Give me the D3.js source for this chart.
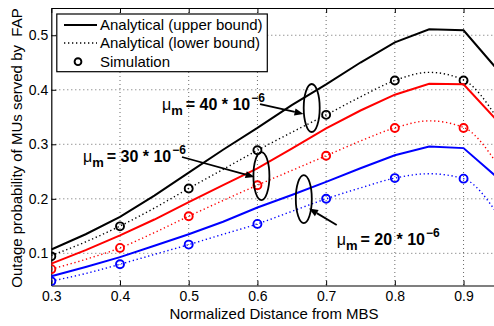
<!DOCTYPE html>
<html>
<head>
<meta charset="utf-8">
<script src="https://cdn.jsdelivr.net/npm/d3@7"></script>
<style>
  body { margin: 0; background: #fff; }
  svg { display: block; font-family: "Liberation Sans", Arial, Helvetica, sans-serif; }
</style>
</head>
<body>
<svg id="chart" width="494" height="326"></svg>
<script>
// ---- data ----
const distance = [0.30, 0.35, 0.40, 0.45, 0.50, 0.55, 0.60, 0.65, 0.70, 0.75, 0.80, 0.85, 0.90, 0.95];

const upper40 = [0.107, 0.135, 0.167, 0.206, 0.248, 0.290, 0.330, 0.372, 0.410, 0.450, 0.487, 0.511, 0.509, 0.436];
const lower40 = [0.096, 0.121, 0.150, 0.183, 0.219, 0.254, 0.289, 0.322, 0.354, 0.387, 0.417, 0.432, 0.418, 0.346];

const upper30 = [0.081, 0.106, 0.133, 0.162, 0.194, 0.225, 0.256, 0.292, 0.329, 0.362, 0.391, 0.411, 0.410, 0.342];
const lower30 = [0.071, 0.089, 0.110, 0.138, 0.168, 0.197, 0.225, 0.252, 0.279, 0.306, 0.330, 0.343, 0.331, 0.262];

const upper20 = [0.058, 0.075, 0.093, 0.114, 0.135, 0.158, 0.184, 0.207, 0.231, 0.256, 0.280, 0.296, 0.293, 0.238];
const lower20 = [0.049, 0.063, 0.080, 0.098, 0.116, 0.135, 0.154, 0.177, 0.200, 0.220, 0.238, 0.246, 0.237, 0.171];

const simDistance = [0.3, 0.4, 0.5, 0.6, 0.7, 0.8, 0.9];
const sim40 = [0.0945, 0.1495, 0.219, 0.289, 0.354, 0.417, 0.417];
const sim30 = [0.071, 0.110, 0.168, 0.225, 0.279, 0.330, 0.330];
const sim20 = [0.0486, 0.080, 0.116, 0.154, 0.200, 0.238, 0.237];

const xTicks = [0.3, 0.4, 0.5, 0.6, 0.7, 0.8, 0.9];
const yTicks = [0.1, 0.2, 0.3, 0.4, 0.5];

const legendLabels = ["Analytical (upper bound)", "Analytical (lower bound)", "Simulation"];
const annotationValues = ["40", "30", "20"];

// ---- layout ----
const svg = d3.select("#chart");
const pLeft = 51.3, pRight = 497.9, pTop = 8, pBottom = 285.5;
const x = d3.scaleLinear().domain([0.3, 0.95]).range([pLeft, pRight]);
const y = d3.scaleLinear().domain([0.041, 0.55]).range([pBottom, pTop]);

svg.append("defs").append("clipPath").attr("id", "clip")
  .append("rect").attr("x", pLeft).attr("y", pTop).attr("width", pRight - pLeft).attr("height", pBottom - pTop);

// grid
const grid = svg.append("g").attr("stroke", "#444").attr("stroke-width", 0.8).attr("stroke-dasharray", "1,3");
grid.selectAll(".gx").data(xTicks.slice(1)).join("line")
  .attr("x1", d => x(d)).attr("x2", d => x(d)).attr("y1", pTop).attr("y2", pBottom);
grid.selectAll(".gy").data(yTicks).join("line")
  .attr("x1", pLeft).attr("x2", pRight).attr("y1", d => y(d)).attr("y2", d => y(d));

// axes
const axB = svg.append("g").attr("transform", `translate(0,${pBottom})`)
  .call(d3.axisBottom(x).tickValues(xTicks).tickSizeInner(-5).tickSizeOuter(0).tickPadding(6).tickFormat(d3.format(".1f")));
const axT = svg.append("g").attr("transform", `translate(0,${pTop})`)
  .call(d3.axisTop(x).tickValues(xTicks).tickSizeInner(-5).tickSizeOuter(0).tickFormat(""));
const axL = svg.append("g").attr("transform", `translate(${pLeft},0)`)
  .call(d3.axisLeft(y).tickValues(yTicks).tickSizeInner(-5).tickSizeOuter(0).tickPadding(3).tickFormat(d3.format(".1f")));
[axB, axT, axL].forEach(a => {
  a.select(".domain").attr("stroke", "#000").attr("stroke-width", 1.2);
  a.selectAll(".tick line").attr("stroke", "#000").attr("stroke-width", 1);
  a.selectAll(".tick text").attr("font-size", 14).attr("fill", "#000")
    .attr("font-family", "Liberation Sans, Arial, sans-serif");
});

// series
const plot = svg.append("g").attr("clip-path", "url(#clip)");
const line = d3.line().x((d, i) => x(distance[i])).y(d => y(d));
const smooth = d3.line().x((d, i) => x(distance[i])).y(d => y(d)).curve(d3.curveMonotoneX);

const series = [
  { up: upper40, lo: lower40, sim: sim40, color: "#000000" },
  { up: upper30, lo: lower30, sim: sim30, color: "#ff0000" },
  { up: upper20, lo: lower20, sim: sim20, color: "#0000ff" }
];
series.forEach(s => {
  plot.append("path").attr("d", line(s.up)).attr("fill", "none")
    .attr("stroke", s.color).attr("stroke-width", 2);
  plot.append("path").attr("d", smooth(s.lo)).attr("fill", "none")
    .attr("stroke", s.color).attr("stroke-width", 1.4).attr("stroke-dasharray", "1.3,2.7");
  plot.selectAll(null).data(s.sim).join("circle")
    .attr("cx", (d, i) => x(simDistance[i])).attr("cy", d => y(d)).attr("r", 4)
    .attr("fill", "none").attr("stroke", s.color).attr("stroke-width", 1.9);
});

// annotations (positions in data coordinates)
const annots = [
  { val: annotationValues[0], tx: 0.4611, ty: 0.3630, ex: 0.679, ey: 0.3666, ax1: 0.6038, ay1: 0.3739, ax2: 0.6671, ay2: 0.3556 },
  { val: annotationValues[1], tx: 0.3461, ty: 0.2681, ex: 0.6058, ey: 0.2418, ax1: 0.4902, ay1: 0.2767, ax2: 0.5958, ay2: 0.2400 },
  { val: annotationValues[2], tx: 0.7154, ty: 0.1152, ex: 0.6675, ey: 0.1996, ax1: 0.7154, ay1: 0.1519, ax2: 0.6751, ay2: 0.1822 }
];
const ann = svg.append("g");
annots.forEach(a => {
  ann.append("ellipse").attr("cx", x(a.ex)).attr("cy", y(a.ey)).attr("rx", 8).attr("ry", 24)
    .attr("fill", "none").attr("stroke", "#000").attr("stroke-width", 1.8);
  const x1 = x(a.ax1), y1 = y(a.ay1), x2 = x(a.ax2), y2 = y(a.ay2);
  const ang = Math.atan2(y2 - y1, x2 - x1);
  const hl = 9, hw = 3.6;
  const bx = x2 - hl * Math.cos(ang), by = y2 - hl * Math.sin(ang);
  ann.append("line").attr("x1", x1).attr("y1", y1).attr("x2", bx).attr("y2", by)
    .attr("stroke", "#000").attr("stroke-width", 1.8);
  ann.append("path")
    .attr("d", `M${x2},${y2}L${bx - hw * Math.sin(ang)},${by + hw * Math.cos(ang)}L${bx + hw * Math.sin(ang)},${by - hw * Math.cos(ang)}Z`)
    .attr("fill", "#000");
  const t = ann.append("text").attr("x", x(a.tx)).attr("y", y(a.ty)).attr("fill", "#000").attr("font-size", 16);
  t.append("tspan").text("μ").attr("font-weight", "normal");
  t.append("tspan").text("m").attr("font-weight", "bold").attr("font-size", 13).attr("dy", 5);
  t.append("tspan").text("= " + a.val + " * 10").attr("font-weight", "bold").attr("dy", -5).attr("dx", 3);
  t.append("tspan").text("−6").attr("font-weight", "bold").attr("font-size", 12).attr("dy", -8).attr("dx", 1);
});

// legend
const lg = svg.append("g");
lg.append("rect").attr("x", 56.8).attr("y", 14).attr("width", 210.5).attr("height", 57.7)
  .attr("fill", "#fff").attr("stroke", "#000").attr("stroke-width", 1.2);
const rows = [25, 43, 61.7];
lg.append("line").attr("x1", 64).attr("x2", 97).attr("y1", rows[0]).attr("y2", rows[0])
  .attr("stroke", "#000").attr("stroke-width", 2);
lg.append("line").attr("x1", 64).attr("x2", 97).attr("y1", rows[1]).attr("y2", rows[1])
  .attr("stroke", "#000").attr("stroke-width", 1.4).attr("stroke-dasharray", "1.3,2.7");
lg.append("circle").attr("cx", 78).attr("cy", rows[2]).attr("r", 3.4)
  .attr("fill", "none").attr("stroke", "#000").attr("stroke-width", 1.9);
lg.selectAll(".lt").data(legendLabels).join("text")
  .attr("x", 100).attr("y", (d, i) => rows[i] + 5.3).attr("font-size", 15).attr("fill", "#000").text(d => d);

// axis labels
svg.append("text").attr("x", 274).attr("y", 318.5).attr("text-anchor", "middle")
  .attr("font-size", 15).attr("fill", "#000").text("Normalized Distance from MBS");
svg.append("text").attr("transform", "translate(21.5,148) rotate(-90)").attr("text-anchor", "middle")
  .attr("font-size", 15).attr("fill", "#000")
  .style("white-space", "pre").text("Outage probability of MUs served by  FAP");
</script>
</body>
</html>
